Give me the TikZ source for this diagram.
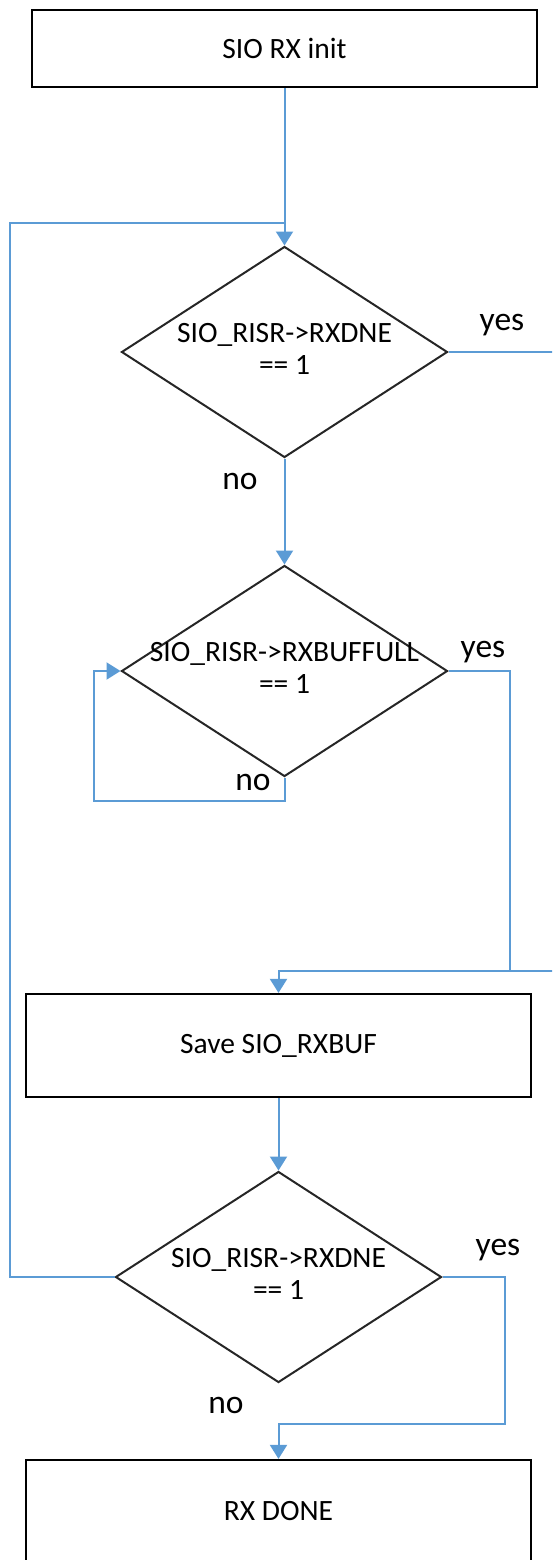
\documentclass[tikz,border=0pt]{standalone}
\usepackage{fontspec}
\setmainfont{Carlito}
\usetikzlibrary{shapes.geometric,arrows.meta}
\definecolor{flowblue}{HTML}{5B9BD5}
\newcommand{\twoline}[2]{\makebox[0pt]{\begin{tabular}{@{}c@{}}#1\\#2\end{tabular}}}

\begin{document}
\begin{tikzpicture}[x=1pt,y=-1pt,
		box/.style={draw=black, line width=2.2pt, inner sep=0pt, minimum width=505pt, font=\fontsize{29.5}{32}\selectfont},
		decision/.style={diamond, draw=black!85, line width=2pt, inner sep=0pt, minimum width=326pt, minimum height=211pt, font=\fontsize{29.5}{32}\selectfont},
		flow/.style={draw=flowblue, line width=2pt},
		arr/.style={flow, -{Triangle[length=14pt,width=17pt]}},
		answer/.style={inner sep=0pt, font=\fontsize{33.5}{36}\selectfont}
	]
		\useasboundingbox (0,0) rectangle (552,1560);
		\clip (0,0) rectangle (552,1560);
		
		\node [box, minimum height=77pt] (init) at (284.5,48.7) {SIO RX init};
		\node [decision] (rxdne) at (284.5,352) {\twoline{SIO\_RISR->RXDNE}{== 1}};
		\node [decision] (rxfull) at (284.5,671) {\twoline{SIO\_RISR->RXBUFFULL}{== 1}};
		\node [box, minimum height=103pt] (save) at (278.5,1045.5) {Save SIO\_RXBUF};
		\node [decision] (again) at (278.5,1277) {\twoline{SIO\_RISR->RXDNE}{== 1}};
		\node [box, minimum height=102pt] (done) at (278.5,1511) {RX DONE};
		
		\coordinate (join) at (284.5,222.7);
		\coordinate (loopleft) at (9.9,222.7);
		\coordinate (waitturn) at (93.6,671);
		\coordinate (fullturn) at (510.4,970.7);
		\coordinate (merge) at (278.5,970.7);
		\coordinate (outturn) at (580,352);
		\coordinate (doneturn) at (505,1424);
		
		\draw [arr] (init.south) -- (rxdne.north);
		\draw [arr] (rxdne.south) -- (rxfull.north);
		\draw [arr] (rxfull.south) -- ++(0,23) -| (waitturn) -- (rxfull.west);
		\draw [flow] (rxfull.east) -| (fullturn);
		\draw [arr] (rxdne.east) -- (outturn) |- (merge) -- (save.north);
		\draw [arr] (save.south) -- (again.north);
		\draw [flow] (again.west) -| (loopleft) -- (join);
		\draw [arr] (again.east) -| (doneturn) -| (done.north);
		
		\node [answer] (yes1) at (502,325) {yes};
		\node [answer] (no1) at (240,481) {no};
		\node [answer] (yes2) at (483,652) {yes};
		\node [answer] (no2) at (253,782) {no};
		\node [answer] (yes3) at (498,1250) {yes};
		\node [answer] (no3) at (226,1405) {no};
\end{tikzpicture}
\end{document}
